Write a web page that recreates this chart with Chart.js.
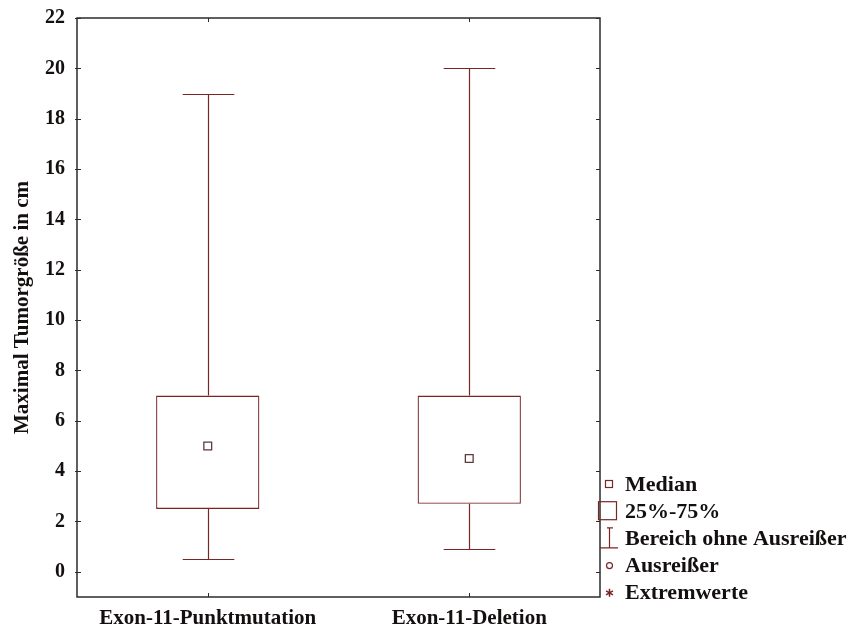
<!DOCTYPE html>
<html>
<head>
<meta charset="utf-8">
<script src="https://cdn.jsdelivr.net/npm/chart.js@4/dist/chart.umd.min.js"></script>
<style>
  html, body { margin: 0; padding: 0; background: #fff; }
</style>
</head>
<body>
<canvas id="c" width="851" height="630"></canvas>
<script>
const groups = ['Exon-11-Punktmutation', 'Exon-11-Deletion'];
const lowWhisker = [0.5, 0.9];
const q1 = [2.5, 2.7];
const medians = [5.0, 4.5];
const q3 = [7.0, 7.0];
const highWhisker = [19.0, 20.0];
const legendLabels = ['Median', '25%-75%', 'Bereich ohne Ausreißer', 'Ausreißer', 'Extremwerte'];

const boxColor = '#7a2626';
const frameColor = '#2b2b2b';
const FONT = "'Liberation Serif', 'Times New Roman', serif";

// whiskers, frame, inner ticks and the legend
const boxPlotExtras = {
  id: 'boxPlotExtras',
  afterDatasetsDraw(chart) {
    const ctx = chart.ctx;
    const x = chart.scales.x, y = chart.scales.y;
    const bars = chart.getDatasetMeta(0).data;
    ctx.save();
    ctx.lineWidth = 1.2;
    groups.forEach((g, i) => {
      const px = Math.round(x.getPixelForValue(i)) + 0.5;
      const half = bars[i].width * 0.25;
      const yHi = Math.round(y.getPixelForValue(highWhisker[i])) + 0.5;
      const yQ3 = y.getPixelForValue(q3[i]);
      const yQ1 = y.getPixelForValue(q1[i]);
      const yLo = Math.round(y.getPixelForValue(lowWhisker[i])) + 0.5;
      ctx.strokeStyle = boxColor;
      ctx.beginPath();
      ctx.moveTo(px, yQ3); ctx.lineTo(px, yHi);
      ctx.moveTo(px - half, yHi); ctx.lineTo(px + half, yHi);
      ctx.moveTo(px, yQ1); ctx.lineTo(px, yLo);
      ctx.moveTo(px - half, yLo); ctx.lineTo(px + half, yLo);
      ctx.stroke();
    });
    ctx.restore();
  },
  afterDraw(chart) {
    const ctx = chart.ctx;
    const a = chart.chartArea;
    const x = chart.scales.x, y = chart.scales.y;
    ctx.save();
    ctx.strokeStyle = frameColor;
    ctx.lineWidth = 1.5;
    ctx.strokeRect(a.left, a.top, a.right - a.left, a.bottom - a.top);
    ctx.lineWidth = 1;
    ctx.beginPath();
    y.ticks.forEach(t => {
      if (t.value < 0) return;
      const py = Math.round(y.getPixelForValue(t.value)) + 0.5;
      ctx.moveTo(a.left - 2, py); ctx.lineTo(a.left + 4, py);
      ctx.moveTo(a.right - 4, py); ctx.lineTo(a.right, py);
    });
    groups.forEach((g, i) => {
      const px = Math.round(x.getPixelForValue(i)) + 0.5;
      ctx.moveTo(px, a.top); ctx.lineTo(px, a.top + 4);
      ctx.moveTo(px, a.bottom); ctx.lineTo(px, a.bottom - 4);
    });
    ctx.stroke();

    // legend
    const lx = a.right + 5;
    const tx = a.right + 25;
    const y0 = 484, step = 27.2;
    ctx.font = 'bold 22px ' + FONT;
    ctx.fillStyle = '#141010';
    ctx.textBaseline = 'middle';
    legendLabels.forEach((lab, i) => ctx.fillText(lab, tx, y0 + i * step + 1));
    ctx.strokeStyle = boxColor;
    ctx.lineWidth = 1.2;
    // median
    ctx.strokeRect(lx + 0.5, y0 - 3.5, 7, 7);
    // box
    ctx.strokeRect(a.right - 1.5, y0 + step - 9.5, 18, 18);
    // whisker symbol
    let wy = y0 + 2 * step;
    ctx.beginPath();
    ctx.moveTo(lx + 2, wy - 10.5); ctx.lineTo(lx + 8, wy - 10.5);
    ctx.moveTo(lx + 4.5, wy - 10); ctx.lineTo(lx + 4.5, wy + 9);
    ctx.moveTo(lx - 5, wy + 9.5); ctx.lineTo(lx + 13, wy + 9.5);
    ctx.stroke();
    // outlier circle
    ctx.beginPath();
    ctx.arc(lx + 4.5, y0 + 3 * step, 3, 0, Math.PI * 2);
    ctx.stroke();
    // extreme asterisk
    const ex = lx + 4.5, ey = y0 + 4 * step;
    ctx.beginPath();
    for (let k = 0; k < 3; k++) {
      const ang = k * Math.PI / 3 + Math.PI / 2;
      ctx.moveTo(ex - 4 * Math.cos(ang), ey - 4 * Math.sin(ang));
      ctx.lineTo(ex + 4 * Math.cos(ang), ey + 4 * Math.sin(ang));
    }
    ctx.lineWidth = 1.5;
    ctx.stroke();
    ctx.restore();
  }
};

new Chart(document.getElementById('c'), {
  type: 'bar',
  data: {
    labels: groups,
    datasets: [
      {
        label: '25%-75%',
        data: groups.map((g, i) => [q1[i], q3[i]]),
        backgroundColor: '#ffffff',
        borderColor: boxColor,
        borderWidth: 1.3,
        borderSkipped: false,
        barPercentage: 0.395,
        categoryPercentage: 1.0,
        grouped: false,
        order: 2
      },
      {
        type: 'line',
        label: 'Median',
        data: medians,
        showLine: false,
        pointStyle: 'rect',
        pointRadius: 5.5,
        pointBorderWidth: 1.3,
        pointBackgroundColor: '#ffffff',
        pointBorderColor: '#5e3a3a',
        order: 1
      }
    ]
  },
  options: {
    responsive: false,
    animation: false,
    devicePixelRatio: 1,
    layout: { padding: { top: 18, right: 251, left: 0, bottom: 0 } },
    plugins: {
      legend: { display: false },
      tooltip: { enabled: false }
    },
    scales: {
      x: {
        offset: true,
        grid: { display: false, drawTicks: false },
        border: { display: false },
        ticks: {
          padding: 9,
          color: '#141010',
          font: { family: FONT, size: 21, weight: 'bold' }
        },
        afterFit: s => { s.height = 33; }
      },
      y: {
        min: -1,
        max: 22,
        grid: { display: false, drawTicks: false },
        border: { display: false },
        ticks: {
          stepSize: 2,
          padding: 12,
          color: '#141010',
          font: { family: FONT, size: 20, weight: 'bold' },
          callback: v => (v < 0 ? '' : v)
        },
        title: {
          display: true,
          text: 'Maximal Tumorgröße in cm',
          color: '#141010',
          padding: { top: 10, bottom: 0 },
          font: { family: FONT, size: 21, weight: 'bold' }
        },
        afterFit: s => { s.width = 77; s.paddingTop = 0; s.paddingBottom = 0; }
      }
    }
  },
  plugins: [boxPlotExtras]
});
</script>
</body>
</html>
